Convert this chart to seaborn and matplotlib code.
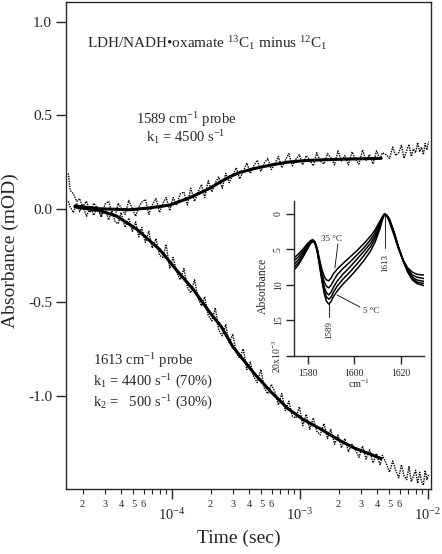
import numpy as np
import pandas as pd
import seaborn as sns
import matplotlib
matplotlib.use("Agg")
import matplotlib.pyplot as plt

# ---- kinetic traces (time in microseconds, absorbance in mOD) ----
t_raw_us = [15.5, 16, 17, 18, 19, 20, 21.5, 23, 24.5, 26,
            28, 30, 32, 34, 36, 38, 40, 43, 46, 49,
            52, 55, 58, 62, 66, 70, 75, 80, 85, 90,
            96, 102, 109, 116, 124, 132, 140, 150, 160, 170,
            180, 192, 205, 218, 232, 247, 263, 280, 298, 318,
            338, 360, 384, 409, 435, 464, 494, 526, 560, 597,
            636, 677, 721, 768, 818, 871, 928, 988, 1050, 1120,
            1190, 1270, 1350, 1440, 1540, 1640, 1740, 1860, 1980, 2110,
            2240, 2390, 2550, 2710, 2890, 3080, 3280, 3490, 3720, 3960,
            4220, 4400, 4700, 5000, 5300, 5600, 5900, 6200, 6500, 6800,
            7100, 7400, 7700, 8000, 8300, 8600, 8900, 9200, 9500, 9800,
            10100]

raw_1589 = [0.19, 0.10, 0.08, 0.04, 0.055, 0.01, 0.04, -0.02, 0.03, 0.005,
            -0.035, 0.025, 0.04, -0.02, -0.04, 0.03, 0.005, -0.03, 0.045, 0.0,
            -0.04, 0.01, 0.035, 0.05, -0.03, 0.02, 0.055, -0.02, 0.03, 0.06,
            -0.01, 0.06, 0.02, 0.08, 0.09, 0.02, 0.11, 0.04, 0.09, 0.13,
            0.06, 0.15, 0.09, 0.14, 0.17, 0.11, 0.19, 0.14, 0.18, 0.22,
            0.16, 0.2, 0.245, 0.19, 0.23, 0.26, 0.2, 0.245, 0.27, 0.21,
            0.24, 0.28, 0.22, 0.26, 0.295, 0.23, 0.265, 0.29, 0.235, 0.285,
            0.26, 0.23, 0.3, 0.255, 0.24, 0.295, 0.275, 0.235, 0.31, 0.255,
            0.285, 0.235, 0.305, 0.265, 0.24, 0.315, 0.26, 0.29, 0.24, 0.31,
            0.265, 0.3, 0.29, 0.27, 0.33, 0.285, 0.3, 0.34, 0.27, 0.31,
            0.345, 0.28, 0.32, 0.3, 0.355, 0.305, 0.33, 0.29, 0.35, 0.315,
            0.36]

raw_1613 = [0.04, 0.01, -0.02, 0.03, -0.015, 0.02, -0.04, 0.01, -0.035, 0.01,
            -0.045, 0.005, -0.06, -0.01, -0.07, -0.08, -0.02, -0.1, -0.05, -0.12,
            -0.07, -0.15, -0.1, -0.18, -0.12, -0.21, -0.16, -0.25, -0.26, -0.19,
            -0.32, -0.26, -0.34, -0.38, -0.32, -0.42, -0.45, -0.38, -0.48, -0.52,
            -0.47, -0.57, -0.6, -0.53, -0.65, -0.68, -0.62, -0.72, -0.67, -0.77,
            -0.8, -0.75, -0.86, -0.82, -0.9, -0.93, -0.86, -0.96, -0.99, -0.94,
            -0.98, -1.05, -0.99, -1.08, -1.03, -1.11, -1.12, -1.06, -1.16, -1.1,
            -1.18, -1.12, -1.19, -1.21, -1.15, -1.23, -1.18, -1.26, -1.21, -1.28,
            -1.23, -1.3, -1.26, -1.29, -1.33, -1.27, -1.34, -1.29, -1.36, -1.31,
            -1.37, -1.32, -1.36, -1.41, -1.35, -1.4, -1.44, -1.37, -1.43, -1.45,
            -1.38, -1.46, -1.43, -1.4, -1.47, -1.41, -1.46, -1.48, -1.4, -1.45,
            -1.42]

fit_t_1589 = [17.5, 27.4, 47, 67.3, 96.5, 138, 198, 240, 290, 340,
              437, 600, 806, 1100, 1460, 2000, 2640, 3500, 4300]
fit_1589 = [0.015, 0.0, -0.005, 0.005, 0.02, 0.06, 0.11, 0.145, 0.175, 0.195,
            0.215, 0.235, 0.25, 0.258, 0.262, 0.265, 0.267, 0.269, 0.27]

fit_t_1613 = [17.5, 27.4, 37.1, 53.3, 80.6, 109, 146, 198, 242, 300,
              437, 593, 806, 1070, 1460, 1980, 2640, 3590, 4300]
fit_1613 = [0.01, -0.01, -0.04, -0.11, -0.22, -0.33, -0.43, -0.556, -0.63, -0.74,
            -0.88, -0.98, -1.07, -1.13, -1.18, -1.235, -1.28, -1.315, -1.337]

# ---- inset: temperature-dependent spectra (absorbance x10^-3) ----
wavenumber = [1574, 1576, 1578, 1580, 1581, 1582, 1583, 1584, 1585, 1586,
              1587, 1588, 1589, 1590, 1591, 1592.5, 1595, 1598, 1601, 1604,
              1607, 1609, 1611, 1612, 1613, 1614, 1615, 1617, 1619, 1621,
              1623, 1625, 1627, 1630]
spec_35C = [6.2, 5.6, 4.9, 4.1, 3.8, 3.6, 3.9, 4.9, 6.4, 7.8,
            8.8, 9.3, 9.4, 9.0, 8.4, 7.8, 7.0, 6.1, 5.2, 4.2,
            3.1, 2.2, 1.0, 0.4, 0.0, 0.3, 1.0, 2.9, 4.9, 6.5,
            7.6, 8.2, 8.5, 8.6]
spec_27C = [6.6, 6.0, 5.2, 4.3, 3.9, 3.7, 4.0, 5.0, 6.7, 8.3,
            9.6, 10.2, 10.4, 10.0, 9.4, 8.6, 7.7, 6.8, 5.8, 4.8,
            3.6, 2.6, 1.3, 0.5, 0.0, 0.2, 0.9, 2.7, 4.8, 6.5,
            7.8, 8.6, 8.9, 9.1]
spec_20C = [7.1, 6.4, 5.5, 4.5, 4.0, 3.8, 4.0, 5.1, 6.9, 8.8,
            10.3, 11.1, 11.4, 11.0, 10.3, 9.5, 8.5, 7.5, 6.4, 5.3,
            4.1, 3.0, 1.6, 0.6, 0.0, 0.2, 0.8, 2.6, 4.7, 6.5,
            7.9, 8.9, 9.3, 9.5]
spec_12C = [7.5, 6.8, 5.8, 4.7, 4.1, 3.8, 4.0, 5.2, 7.1, 9.1,
            10.8, 11.7, 12.0, 11.7, 11.0, 10.2, 9.2, 8.2, 7.1, 5.9,
            4.6, 3.4, 1.8, 0.7, 0.0, 0.2, 0.7, 2.5, 4.7, 6.6,
            8.1, 9.1, 9.6, 9.8]
spec_5C = [7.9, 7.1, 6.0, 4.8, 4.2, 3.9, 4.1, 5.3, 7.3, 9.4,
           11.2, 12.3, 12.7, 12.3, 11.6, 10.9, 9.9, 8.9, 7.8, 6.6,
           5.2, 3.9, 2.1, 0.9, 0.0, 0.2, 0.6, 2.4, 4.6, 6.6,
           8.2, 9.3, 9.8, 10.1]
spec_labels = ["35", "27", "20", "12", "5"]

# ---- style ----
sns.set_style("ticks")
plt.rcParams["font.family"] = ["Liberation Serif", "DejaVu Serif"]
plt.rcParams["mathtext.fontset"] = "custom"
plt.rcParams["mathtext.rm"] = "Liberation Serif"
plt.rcParams["mathtext.it"] = "Liberation Serif:italic"
plt.rcParams["mathtext.bf"] = "Liberation Serif:bold"
plt.rcParams["axes.unicode_minus"] = False
plt.rcParams["axes.linewidth"] = 1.0

fig = plt.figure(figsize=(4.42, 5.54), dpi=100)
ax = fig.add_axes([0.1493, 0.1173, 0.8258, 0.8791])

t_raw = np.array(t_raw_us) * 1e-6
for raw in (raw_1589, raw_1613):
    sns.lineplot(x=t_raw, y=raw, ax=ax, color="black", lw=1.0,
                 ls=(0, (1, 0.8)), estimator=None, sort=False)
sns.lineplot(x=np.array(fit_t_1589) * 1e-6, y=fit_1589, ax=ax,
             color="black", lw=2.2, estimator=None)
sns.lineplot(x=np.array(fit_t_1613) * 1e-6, y=fit_1613, ax=ax,
             color="black", lw=2.2, estimator=None)

ax.set_xscale("log")
ax.set_xlim(1.486e-5, 1.055e-2)
ax.set_ylim(-1.5, 1.107)

major_x = [1e-4, 1e-3, 1e-2]
ax.set_xticks(major_x, labels=[r"$10^{-4}$", r"$10^{-3}$", r"$10^{-2}$"])
minor_x = [k * 10.0 ** e for e in (-5, -4, -3) for k in range(2, 10)]
minor_lab = [str(k) if k <= 6 else "" for e in (-5, -4, -3) for k in range(2, 10)]
ax.set_xticks(minor_x, labels=minor_lab, minor=True)
ax.set_yticks([-1.0, -0.5, 0.0, 0.5, 1.0],
              labels=["-1.0", "-0.5", "0.0", "0.5", "1.0"])
ax.tick_params(axis="x", which="major", direction="out", length=7, width=1,
               pad=6, labelsize=10.5)
ax.tick_params(axis="x", which="minor", direction="out", length=3.6, width=0.8,
               pad=4, labelsize=7.5)
ax.tick_params(axis="y", which="major", direction="out", length=7, width=1,
               pad=3, labelsize=11)
ax.tick_params(axis="y", which="minor", left=False)

ax.set_xlabel("Time (sec)", fontsize=14)
ax.xaxis.set_label_coords(0.474, -0.084)
ax.set_ylabel("Absorbance (mOD)", fontsize=14)
ax.yaxis.set_label_coords(-0.13, 0.49)

fs = 10.5
ax.text(0.0575, 0.906, "LDH/NADH\u2022oxamate $^{13}$C$_1$ minus $^{12}$C$_1$",
        transform=ax.transAxes, fontsize=11, va="baseline", ha="left")
ax.text(0.329, 0.749, "1589 cm$^{-1}$ probe", transform=ax.transAxes,
        fontsize=fs, va="baseline", ha="center")
ax.text(0.329, 0.713, "k$_1$ = 4500 s$^{-1}$", transform=ax.transAxes,
        fontsize=fs, va="baseline", ha="center")
ax.text(0.074, 0.2546, "1613 cm$^{-1}$ probe", transform=ax.transAxes,
        fontsize=fs, va="baseline", ha="left")
ax.text(0.074, 0.212, "k$_1$ = 4400 s$^{-1}$ (70%)", transform=ax.transAxes,
        fontsize=fs, va="baseline", ha="left")
ax.text(0.074, 0.168, "k$_2$ =   500 s$^{-1}$ (30%)", transform=ax.transAxes,
        fontsize=fs, va="baseline", ha="left")

# ---- inset ----
ins = fig.add_axes([0.6652, 0.3574, 0.2941, 0.2798])
ins.patch.set_alpha(0)
spec = pd.DataFrame({
    "wn": wavenumber * 5,
    "A": spec_35C + spec_27C + spec_20C + spec_12C + spec_5C,
    "T": sum([[lab] * len(wavenumber) for lab in spec_labels], []),
})
sns.lineplot(data=spec, x="wn", y="A", units="T", estimator=None,
             color="black", lw=1.1, ax=ins)
ins.set_xlim(1574, 1630)
ins.set_ylim(20, -1.83)
sns.despine(ax=ins)
ins.spines["left"].set_linewidth(1.0)
ins.spines["bottom"].set_linewidth(1.0)
ins.set_xticks([1580, 1600, 1620], labels=["1580", "1600", "1620"])
ins.set_yticks([0, 5, 10, 15, 20],
               labels=["0", "5", "10", "15", "20x10$^{-3}$"])
for lab in ins.get_yticklabels():
    lab.set_rotation(90)
    lab.set_va("center")
ins.tick_params(axis="both", direction="out", length=6, width=1,
                labelsize=7, pad=3)
ins.tick_params(axis="y", pad=2)
ins.set_xlabel("cm$^{-1}$", fontsize=7.5, labelpad=0)
ins.set_ylabel("Absorbance", fontsize=8.5, labelpad=1)
ins.yaxis.set_label_coords(-0.19, 0.45)

ins.plot([1592.9, 1591.6], [4.2, 7.6], color="black", lw=0.6)
ins.text(1590.3, 3.5, "35 \u00b0C", fontsize=6.5, ha="center", va="center")
ins.plot([1602.4, 1592.5], [13.1, 11.4], color="black", lw=0.6)
ins.text(1607.1, 13.7, "5 \u00b0C", fontsize=6.5, ha="center", va="center")
ins.plot([1589.0, 1589.0], [12.6, 14.5], color="black", lw=0.6)
ins.text(1589.0, 16.4, "1589", fontsize=6.5, rotation=90, ha="center", va="center")
ins.plot([1613.1, 1613.1], [0.1, 4.8], color="black", lw=0.6)
ins.text(1613.1, 6.9, "1613", fontsize=6.5, rotation=90, ha="center", va="center")

fig.savefig("out.png", dpi=100)
